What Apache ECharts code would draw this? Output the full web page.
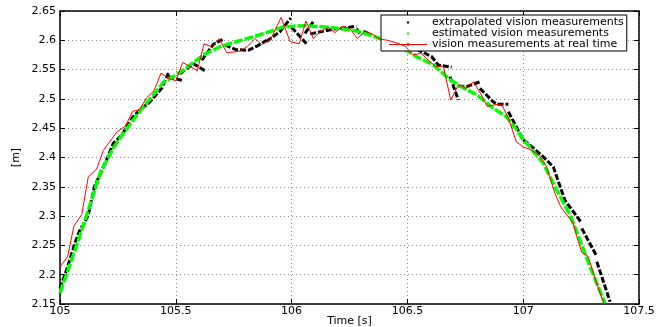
<!DOCTYPE html>
<html><head><meta charset="utf-8">
<script src="https://cdn.jsdelivr.net/npm/echarts@6/dist/echarts.min.js"></script>
<style>html,body{margin:0;padding:0;background:#fff}#c{width:665px;height:327px}</style>
</head><body><div id="c"></div>
<script>
// ---- data ----
const xTicks = [105, 105.5, 106, 106.5, 107, 107.5];
const yTicks = [2.15, 2.2, 2.25, 2.3, 2.35, 2.4, 2.45, 2.5, 2.55, 2.6, 2.65];
const seriesNames = ['extrapolated vision measurements', 'estimated vision measurements', 'vision measurements at real time'];
const xTitle = 'Time [s]';
const yTitle = '[m]';

const extrapolatedSegments = [
  [[105.0,2.177],[105.03,2.21],[105.07,2.26],[105.09,2.28],[105.1,2.284],[105.122,2.302],[105.15,2.352],[105.16,2.36],[105.2,2.395],[105.23,2.424],[105.266,2.438],[105.316,2.470],[105.345,2.481],[105.389,2.495],[105.439,2.518],[105.468,2.544]],
  [[105.468,2.538],[105.532,2.531]],
  [[105.518,2.543],[105.576,2.560],[105.626,2.548]],
  [[105.612,2.566],[105.662,2.593],[105.705,2.602]],
  [[105.712,2.592],[105.76,2.584],[105.813,2.583],[105.85,2.590],[105.892,2.600]],
  [[105.892,2.598],[105.95,2.615],[105.997,2.638]],
  [[106.0,2.622],[106.065,2.594]],
  [[106.058,2.612],[106.094,2.632]],
  [[106.08,2.611],[106.195,2.620]],
  [[106.21,2.620],[106.28,2.624]],
  [[106.28,2.620],[106.30,2.608]],
  [[106.31,2.615],[106.345,2.610]],
  [[106.52,2.596],[106.54,2.585],[106.605,2.572],[106.633,2.558],[106.691,2.554]],
  [[106.684,2.538],[106.72,2.498]],
  [[106.72,2.522],[106.756,2.521],[106.813,2.529]],
  [[106.813,2.518],[106.871,2.495],[106.885,2.491],[106.936,2.491]],
  [[106.936,2.478],[107.0,2.430],[107.029,2.421],[107.087,2.401],[107.13,2.384],[107.18,2.327],[107.253,2.288]],
  [[107.253,2.279],[107.318,2.231]],
  [[107.318,2.222],[107.375,2.154]]
];

const estimated = [
  [105.0,2.169],[105.065,2.242],[105.122,2.310],[105.173,2.373],[105.23,2.416],[105.273,2.441],[105.316,2.464],
  [105.36,2.487],[105.403,2.507],[105.446,2.528],[105.489,2.538],[105.532,2.549],[105.576,2.562],[105.619,2.575],
  [105.69,2.589],[105.763,2.598],[105.835,2.606],[105.907,2.615],[105.964,2.623],[106.007,2.624],[106.05,2.625],
  [106.137,2.623],[106.209,2.620],[106.281,2.616],[106.353,2.607],[106.4,2.600],[106.468,2.589],[106.504,2.581],
  [106.54,2.572],[106.612,2.558],[106.684,2.533],[106.727,2.522],[106.799,2.507],[106.871,2.484],[106.929,2.469],
  [106.972,2.447],[107.0,2.430],[107.022,2.421],[107.087,2.390],[107.144,2.345],[107.202,2.302],[107.245,2.259],
  [107.288,2.214],[107.353,2.151]
];

const realTime = [
  [105.0,2.213],[105.033,2.231],[105.06,2.283],[105.094,2.303],[105.122,2.367],[105.158,2.380],[105.187,2.412],
  [105.22,2.430],[105.247,2.444],[105.281,2.453],[105.314,2.479],[105.342,2.481],[105.374,2.502],[105.406,2.514],
  [105.436,2.544],[105.468,2.535],[105.5,2.531],[105.53,2.562],[105.56,2.556],[105.593,2.548],[105.622,2.594],
  [105.655,2.589],[105.687,2.603],[105.72,2.579],[105.75,2.580],[105.78,2.582],[105.81,2.590],[105.842,2.603],
  [105.87,2.593],[105.907,2.600],[105.955,2.639],[105.993,2.598],[106.033,2.594],[106.062,2.633],[106.094,2.603],
  [106.123,2.615],[106.159,2.622],[106.187,2.613],[106.22,2.624],[106.252,2.620],[106.284,2.603],[106.317,2.616],
  [106.353,2.609],[106.382,2.602],[106.415,2.600],[106.45,2.596],[106.49,2.590],[106.525,2.575],[106.56,2.578],
  [106.59,2.566],[106.623,2.555],[106.655,2.556],[106.687,2.498],[106.72,2.524],[106.753,2.518],[106.785,2.529],
  [106.815,2.510],[106.845,2.487],[106.878,2.490],[106.907,2.491],[106.936,2.467],[106.97,2.427],[107.0,2.418],
  [107.034,2.413],[107.07,2.403],[107.1,2.385],[107.137,2.339],[107.162,2.316],[107.188,2.302],[107.216,2.288],
  [107.231,2.265],[107.253,2.238],[107.281,2.231],[107.31,2.194],[107.349,2.150]
];

// ---- chart ----
const FONT = 'DejaVu Sans';
const xMin = xTicks[0], xMax = xTicks[xTicks.length-1], xInt = xTicks[1]-xTicks[0];
const yMin = yTicks[0], yMax = yTicks[yTicks.length-1], yInt = 0.05;
const black = '#000000', green = '#00ff00', red = '#ff0000';

// legend icons (38x4 box): a small centred dot, and a thin line with a dot
const dotIcon = 'path://M0,0L0.01,0L0,0.01Z M38,4L37.99,4L38,3.99Z M17.9,0.9L20.1,0.9L20.1,3.1L17.9,3.1Z';
const lineDotIcon = 'path://M0,1.5L38,1.5L38,2.5L0,2.5Z M17.8,0.8L20.2,0.8L20.2,3.2L17.8,3.2Z M0,0L0.01,0L0,0.01Z M38,4L37.99,4L38,3.99Z';

const series = [];
extrapolatedSegments.forEach(seg => series.push({
  name: seriesNames[0], type: 'line', data: seg, showSymbol: false, symbol: 'circle',
  lineStyle: {color: black, width: 3, type: [6, 2]}, itemStyle: {color: black},
  silent: true, animation: false, z: 2
}));
series.push({
  name: seriesNames[1], type: 'line', data: estimated, showSymbol: false, symbol: 'circle',
  lineStyle: {color: green, width: 3.5, type: [9, 2]}, itemStyle: {color: green},
  silent: true, animation: false, z: 3
});
series.push({
  name: seriesNames[2], type: 'line', data: realTime, showSymbol: false, symbol: 'circle',
  lineStyle: {color: red, width: 1}, itemStyle: {color: red},
  silent: true, animation: false, z: 4
});

const tickStyle = {show: true, inside: true, length: 5, lineStyle: {color: '#000', width: 1}};
const lineSty = {show: true, onZero: false, lineStyle: {color: '#000', width: 1.5}};
const gridSty = {show: true, lineStyle: {color: '#8a8a8a', width: 1, type: [1, 3]}};

const option = {
  backgroundColor: '#fff',
  animation: false,
  grid: {left: 60, right: 26, top: 11, bottom: 23, containLabel: false, outerBoundsMode: 'none'},
  legend: {
    data: [
      {name: seriesNames[0], icon: dotIcon, itemStyle: {color: black}},
      {name: seriesNames[1], icon: dotIcon, itemStyle: {color: green}},
      {name: seriesNames[2], icon: lineDotIcon, itemStyle: {color: red}}
    ],
    orient: 'vertical', left: 381, top: 15,
    itemWidth: 38, itemHeight: 4, itemGap: 0,
    padding: [2, 3, 1, 8],
    backgroundColor: '#fff', borderColor: '#000', borderWidth: 1, borderRadius: 0,
    selectedMode: false,
    textStyle: {fontFamily: FONT, fontSize: 11, color: '#000', lineHeight: 10}
  },
  xAxis: [{
    type: 'value', min: xMin, max: xMax, interval: xInt,
    name: xTitle, nameLocation: 'middle', nameGap: 11, nameMoveOverlap: false,
    nameTextStyle: {fontFamily: FONT, fontSize: 11, color: '#000', verticalAlign: 'top', lineHeight: 12},
    axisLine: lineSty, axisTick: tickStyle, splitLine: gridSty,
    axisLabel: {fontFamily: FONT, fontSize: 11, color: '#000', margin: 2,
      formatter: v => String(parseFloat(v.toFixed(1)))}
  }, {
    type: 'value', min: xMin, max: xMax, interval: xInt, position: 'top',
    axisLine: lineSty, axisTick: tickStyle, splitLine: {show: false}, axisLabel: {show: false}
  }],
  yAxis: [{
    type: 'value', min: yMin, max: yMax, interval: yInt,
    name: yTitle, nameLocation: 'middle', nameGap: 38, nameRotate: 90, nameMoveOverlap: false,
    nameTextStyle: {fontFamily: FONT, fontSize: 11, color: '#000'},
    axisLine: lineSty, axisTick: tickStyle, splitLine: gridSty,
    axisLabel: {fontFamily: FONT, fontSize: 11, color: '#000', margin: 4,
      formatter: v => String(parseFloat(v.toFixed(2)))}
  }, {
    type: 'value', min: yMin, max: yMax, interval: yInt, position: 'right',
    axisLine: lineSty, axisTick: tickStyle, splitLine: {show: false}, axisLabel: {show: false}
  }],
  series: series
};

const chart = echarts.init(document.getElementById('c'), null, {renderer: 'canvas'});
chart.setOption(option);
</script>
</body></html>
